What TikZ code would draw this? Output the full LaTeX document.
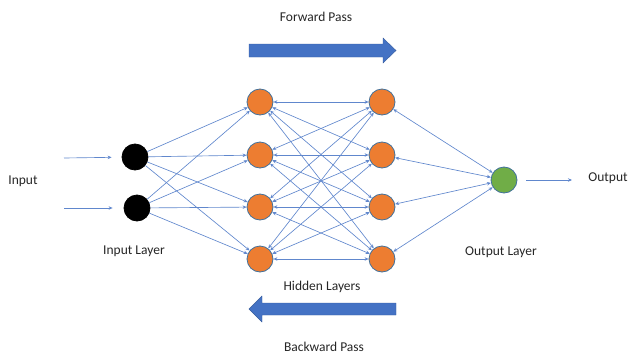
\documentclass[tikz,border=0pt]{standalone}
\usepackage{fontspec}
\setmainfont{Carlito}
\usetikzlibrary{arrows.meta}
\definecolor{obl}{HTML}{4472C4}
\definecolor{oor}{HTML}{ED7D31}
\definecolor{ogr}{HTML}{70AD47}
\definecolor{oedge}{HTML}{41719C}
\tikzset{
  neuron/.style={circle, minimum size=26pt, inner sep=0pt, draw=oedge, line width=0.8pt},
  inn/.style={neuron, fill=black, draw=black},
  hid/.style={neuron, fill=oor},
  outn/.style={neuron, fill=ogr},
  conn/.style={draw=obl!85, line width=0.65pt, -{Stealth[length=4pt,width=3.5pt]}},
  biconn/.style={draw=obl!85, line width=0.65pt, {Stealth[length=4pt,width=3.5pt]}-{Stealth[length=4pt,width=3.5pt]}},
  lbl/.style={font=\fontsize{13.5}{16}\selectfont, text=black!85, inner sep=0pt},
  blockarrow/.style={fill=obl, draw=obl!80!black, line width=0.4pt}
}
\begin{document}
\begin{tikzpicture}[x=1pt,y=-1pt]
\useasboundingbox (0,0) rectangle (629,356);
% nodes
\node[inn] (i1) at (135,157) {};
\node[inn] (i2) at (137,208) {};
\foreach \k/\y in {1/102,2/155,3/207,4/259}{
  \node[hid] (a\k) at (260,\y) {};
  \node[hid] (b\k) at (382,\y) {};
}
\node[outn] (o) at (504,180) {};
% input/output arrows
\coordinate (in1) at (64,158);
\coordinate (in2) at (64,208);
\coordinate (out1) at (572,180);
\draw[conn, shorten >=10pt] (in1) -- (i1);
\draw[conn, shorten >=11pt] (in2) -- (i2);
\draw[conn, shorten <=9pt] (o) -- (out1);
% connections
\foreach \i in {1,2}{\foreach \k in {1,...,4}{\draw[conn] (i\i) -- (a\k);}}
\foreach \k in {1,...,4}{\foreach \m in {1,...,4}{\draw[biconn] (a\k) -- (b\m);}}
\foreach \m in {1,...,4}{\draw[biconn] (o) -- (b\m);}
% labels
\node[lbl] (tin) at (23,181) {Input};
\node[lbl] (tinl) at (134,251) {Input Layer};
\node[lbl] (thid) at (322,287) {Hidden Layers};
\node[lbl] (toutl) at (501,252) {Output Layer};
\node[lbl] (tout) at (608,178) {Output};
\node[lbl] (tfw) at (316,17) {Forward Pass};
\node[lbl] (tbw) at (324,347) {Backward Pass};
% block arrows
\filldraw[blockarrow] (249,44) -- (383,44) -- (383,38) -- (396,50.5) -- (383,63) -- (383,57) -- (249,57) -- cycle;
\filldraw[blockarrow] (396,303) -- (262,303) -- (262,296) -- (249,309) -- (262,322) -- (262,315) -- (396,315) -- cycle;
\end{tikzpicture}
\end{document}
